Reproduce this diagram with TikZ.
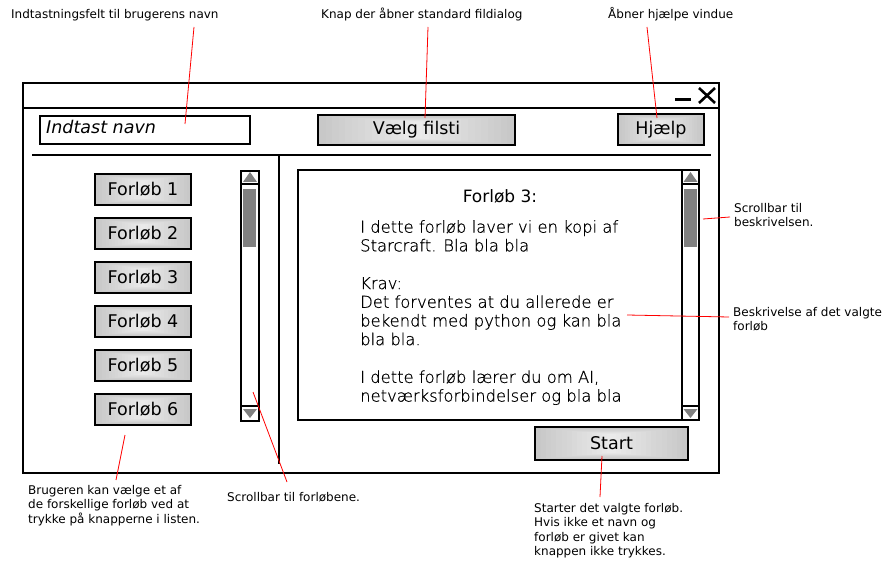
\documentclass[tikz,border=0pt]{standalone}
\usepackage{fontspec}
\setmainfont{DejaVu Sans}
\newfontfamily\lightfont{DejaVu Sans ExtraLight}[FakeBold=0.6]
\usetikzlibrary{fit,calc}
\definecolor{btnedge}{HTML}{C8C8C8}
\definecolor{btnmid}{HTML}{EAEAEA}
\definecolor{thumbgray}{HTML}{808080}
\newcommand\btnglow[1]{%
  \foreach \k in {0,...,14}{
    \pgfmathsetmacro\pc{\k/14*100}
    \fill[btnmid!\pc!btnedge]
      let \p1=(#1.south west), \p2=(#1.north east),
          \n1={(\x2-\x1)*\k/30}, \n2={(\y2-\y1)*\k/30*0.4}
      in (\x1+\n1*1pt+1pt,\y1+\n2*1pt+1pt) rectangle (\x2-\n1*1pt-1pt,\y2-\n2*1pt-1pt);
  }}
\tikzset{
  box/.style={draw=black, inner sep=0pt, outer sep=0pt},
  win/.style={box, line width=2.6pt},
  thick box/.style={box, line width=2pt},
  thin box/.style={box, line width=1.2pt},
  btn/.style={thick box, fill=btnedge},
  btntext/.style={font=\fontsize{17.5}{20}\selectfont, inner sep=0pt},
  thumb/.style={fill=thumbgray, draw=none, inner sep=0pt},
  arrowtri/.style={fill=thumbgray, draw=none},
  ann/.style={draw=red, line width=0.8pt},
  note/.style={inner sep=0pt, align=left, anchor=north west, font=\fontsize{12}{14.5}\selectfont},
  label text/.style={anchor=base west, inner sep=0pt, font=\fontsize{12}{14.5}\selectfont},
  desc/.style={inner sep=0pt, align=left, anchor=north west, font=\fontsize{16.4}{18.7}\selectfont\lightfont},
}
\begin{document}
\begin{tikzpicture}[x=1pt, y=-1pt]
\useasboundingbox (0,0) rectangle (892,572);
\fill[white] (0,0) rectangle (892,572);

% window
\node[win, fit={(23,83) (719,473)}] (window) {};
\coordinate (tbl) at (23,108);
\coordinate (tbr) at (719,108);
\draw[line width=2pt] (tbl) -- (tbr);
% window controls
\coordinate (mina) at (675,100);
\coordinate (minb) at (691,100);
\draw[line width=3pt] (mina) -- (minb);
\coordinate (xa) at (699,88);
\coordinate (xb) at (715,103);
\coordinate (xc) at (699,103);
\coordinate (xd) at (715,88);
\draw[line width=2.6pt] (xa) -- (xb) (xc) -- (xd);

% top row
\node[thick box, fit={(40,116) (250,144)}] (namefield) {};
\node[anchor=base west, inner sep=0pt, font=\fontsize{17.5}{20}\selectfont\itshape] (nametext) at (46,134) {Indtast navn};
\node[btn, fit={(318,115) (515,145)}] (filsti) {};
\btnglow{filsti}
\node[btntext] (filstitext) at (filsti.center) {Vælg filsti};
\node[btn, fit={(618,114) (704,145)}] (hjaelp) {};
\btnglow{hjaelp}
\node[btntext] (hjaelptext) at (hjaelp.center) {Hjælp};

% separators
\coordinate (hsepl) at (32,155);
\coordinate (hsepr) at (711,155);
\draw[line width=1.2pt] (hsepl) -- (hsepr);
\coordinate (vsept) at (279,155);
\coordinate (vsepb) at (279,464);
\draw[line width=1.2pt] (vsept) -- (vsepb);

% course buttons
\foreach \i/\y in {1/174,2/218,3/262,4/306,5/350,6/394}{
  \node[btn, fit={(95,\y) (191,\y+31)}] (f\i) {};
  \btnglow{f\i}
  \node[btntext] (f\i t) at (f\i.center) {Forløb \i};
}

% left scrollbar
\node[thin box, fit={(241,171) (259,421)}] (lscroll) {};
\node[thin box, fit={(241,171) (259,184)}] (lup) {};
\node[thin box, fit={(241,406) (259,421)}] (ldown) {};
\node[thumb, fit={(243,189) (256,247)}] (lthumb) {};
\fill[arrowtri] (243,182) -- (257,182) -- (250,172) -- cycle;
\fill[arrowtri] (243,409) -- (257,409) -- (250,418) -- cycle;

% description box
\node[thin box, fit={(298,170) (699,420)}] (descbox) {};
\node[thin box, fit={(682,170) (699,420)}] (rscroll) {};
\node[thin box, fit={(682,170) (699,184)}] (rup) {};
\node[thin box, fit={(682,406) (699,420)}] (rdown) {};
\node[thumb, fit={(684,189) (697,247)}] (rthumb) {};
\fill[arrowtri] (683.5,182) -- (697.5,182) -- (690.5,172) -- cycle;
\fill[arrowtri] (683.5,409) -- (697.5,409) -- (690.5,418) -- cycle;

\node[inner sep=0pt, font=\fontsize{17}{20}\selectfont] (desctitle) at (500,196) {Forløb 3:};
\node[desc] (desctext) at (360,220) {I dette forløb laver vi en kopi af\\
Starcraft. Bla bla bla\\[19pt]
Krav:\\
Det forventes at du allerede er\\
bekendt med python og kan bla\\
bla bla.\\[19pt]
I dette forløb lærer du om AI,\\
netværksforbindelser og bla bla};

% start button
\node[btn, fit={(535,427) (688,460)}] (start) {};
\btnglow{start}
\node[btntext] (starttext) at (start.center) {Start};

% annotation texts
\node[label text] (l1) at (11,18.5) {Indtastningsfelt til brugerens navn};
\node[label text] (l2) at (321,18.5) {Knap der åbner standard fildialog};
\node[label text] (l3) at (608,18.5) {Åbner hjælpe vindue};
\node[note] (l4) at (734,203) {Scrollbar til\\beskrivelsen.};
\node[note] (l5) at (733,307) {Beskrivelse af det valgte\\forløb};
\node[note] (l6) at (28,485) {Brugeren kan vælge et af\\de forskellige forløb ved at\\trykke på knapperne i listen.};
\node[note] (l7) at (227,492) {Scrollbar til forløbene.};
\node[note] (l8) at (534,503) {Starter det valgte forløb.\\Hvis ikke et navn og\\forløb er givet kan\\knappen ikke trykkes.};

% annotation lines
\coordinate (a1s) at (194,27);   \coordinate (a1e) at (185,124);
\coordinate (a2s) at (428,27);   \coordinate (a2e) at (425,118);
\coordinate (a3s) at (647,27);   \coordinate (a3e) at (657,118);
\coordinate (a4s) at (730,217);  \coordinate (a4e) at (703,219);
\coordinate (a5s) at (729,317);  \coordinate (a5e) at (627,315);
\coordinate (a6s) at (116,480);  \coordinate (a6e) at (125,435);
\coordinate (a7s) at (287,482);  \coordinate (a7e) at (253,392);
\coordinate (a8s) at (600,497);  \coordinate (a8e) at (602,456);
\draw[ann] (a1s) -- (a1e);
\draw[ann] (a2s) -- (a2e);
\draw[ann] (a3s) -- (a3e);
\draw[ann] (a4s) -- (a4e);
\draw[ann] (a5s) -- (a5e);
\draw[ann] (a6s) -- (a6e);
\draw[ann] (a7s) -- (a7e);
\draw[ann] (a8s) -- (a8e);
\end{tikzpicture}
\end{document}
